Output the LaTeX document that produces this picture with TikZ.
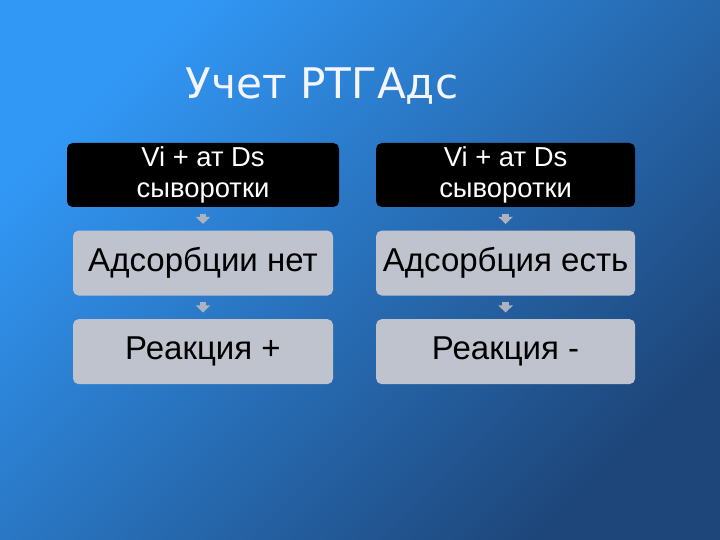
\documentclass[tikz,border=0pt]{standalone}
\usepackage{fontspec}
\setmainfont{Liberation Sans}
\newfontfamily\titulofont{DejaVu Sans}
\usetikzlibrary{arrows.meta, positioning}

\definecolor{fondoclaro}{RGB}{50,152,246}
\definecolor{fondomedio}{RGB}{36,112,200}
\definecolor{fondooscuro}{RGB}{30,70,122}
\definecolor{cajagris}{RGB}{190,195,205}
\definecolor{flechagris}{RGB}{172,178,190}

\begin{document}
\begin{tikzpicture}[
        % Estilo para encabezado
        headbox/.style={
                rectangle,
                rounded corners=4pt,
                minimum height=1.6cm,
                minimum width=6.8cm,
                inner sep=0pt,
                align=center,
                font=\fontsize{19.5}{21.5}\selectfont,
                text=white,
                fill=black
            },
        % Estilo para resultado
        resultbox/.style={
                rectangle,
                rounded corners=4pt,
                minimum height=1.625cm,
                minimum width=6.5cm,
                inner sep=0pt,
                align=center,
                font=\fontsize{23.5}{27}\selectfont,
                text=black,
                fill=cajagris
            },
        % Flecha entre cajas
        flowarrow/.style={
                draw=flechagris,
                line width=4.5pt,
                -{Triangle[width=10pt, length=5pt]},
                shorten <=4.5pt,
                shorten >=4.5pt
            }
    ]

    % FONDO
    \useasboundingbox (0,0) rectangle (18,13.5);
    \shade[top color=fondoclaro, middle color=fondomedio, bottom color=fondooscuro, shading angle=45] (0,0) rectangle (18,13.5);

    % TITULO
    \node[font=\titulofont\fontsize{30}{36}\selectfont, text=white!96!blue] (titulo) at (8.05,11.35) {Учет РТГАдс};

    % COLUMNA IZQUIERDA
    \node[headbox] (vi1) at (5.075,9.125) {Vi + ат Ds\\сыворотки};
    \node[resultbox, below=0.575cm of vi1] (ads1) {Адсорбции нет};
    \node[resultbox, below=0.575cm of ads1] (reac1) {Реакция +};

    % COLUMNA DERECHA
    \node[headbox, minimum width=6.475cm] (vi2) at (12.64,9.125) {Vi + ат Ds\\сыворотки};
    \node[resultbox, minimum width=6.475cm, below=0.575cm of vi2] (ads2) {Адсорбция есть};
    \node[resultbox, minimum width=6.475cm, below=0.575cm of ads2] (reac2) {Реакция -};

    % Flechas
    \draw[flowarrow] (vi1) -- (ads1);
    \draw[flowarrow] (ads1) -- (reac1);
    \draw[flowarrow] (vi2) -- (ads2);
    \draw[flowarrow] (ads2) -- (reac2);

\end{tikzpicture}
\end{document}
